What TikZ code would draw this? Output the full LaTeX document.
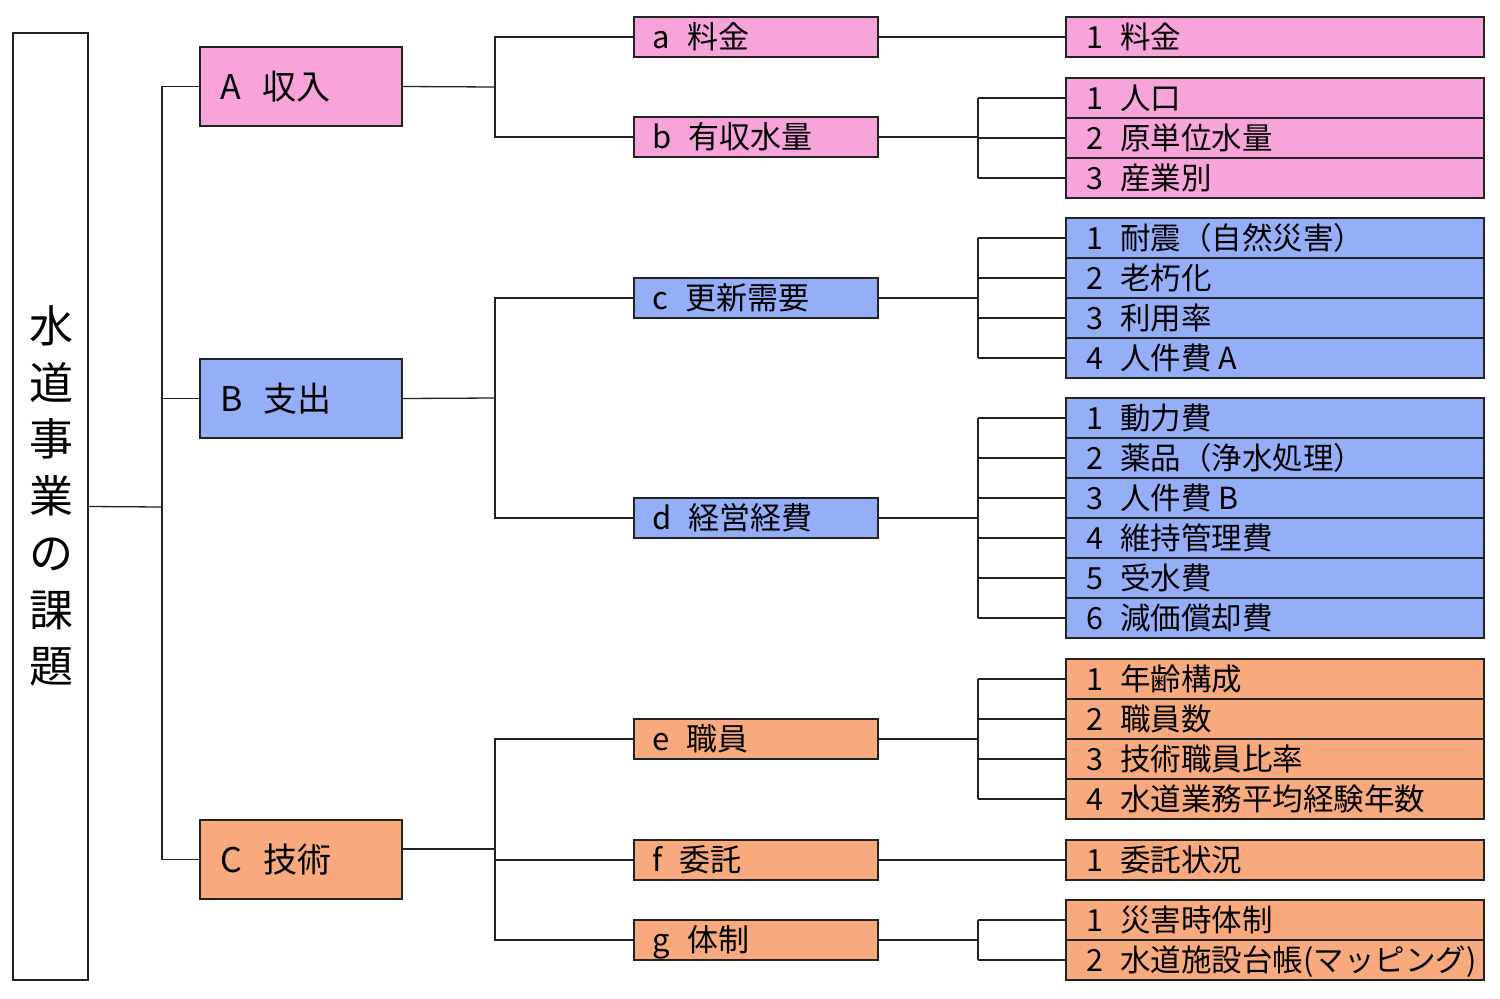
\documentclass[tikz,border=0pt]{standalone}
\usepackage{fontspec}
\setmainfont{Noto Sans CJK JP}
\definecolor{pk}{RGB}{248,164,218}
\definecolor{bl}{RGB}{148,175,248}
\definecolor{og}{RGB}{248,170,126}
\definecolor{ln}{RGB}{35,35,35}
\newcommand\hsp{\hspace{0.55em}}
\newcommand\bhsp{\hspace{0.62em}}
\begin{document}
\begin{tikzpicture}[x=1pt,y=-1pt,
  frame/.style={draw=ln,line width=1.4pt,inner sep=0pt},
  bigbox/.style={frame,minimum width=202pt,minimum height=79pt},
  midbox/.style={frame,minimum width=244pt,minimum height=40pt},
  rbox/.style={frame,minimum width=418pt,minimum height=40pt},
  bigtext/.style={anchor=west,inner sep=0pt,font=\fontsize{34}{40}\selectfont,text height=29.9pt,text depth=4.1pt},
  midtext/.style={anchor=west,inner sep=0pt,font=\fontsize{31}{36}\selectfont,text height=27.3pt,text depth=3.7pt},
  rtext/.style={anchor=west,inner sep=0pt,font=\fontsize{30.5}{36}\selectfont,text height=26.8pt,text depth=3.7pt},
  conn/.style={draw=ln,line width=1.3pt}]
\useasboundingbox (0,0) rectangle (1500,999);
% root
\node[frame,minimum width=75pt,minimum height=947pt] (root) at (50.5,506.5) {};
\node[inner sep=0pt,align=center,font=\fontsize{44}{56.7}\selectfont] (title) at (51,496) {水\\道\\事\\業\\の\\課\\題};
% level 1
\node[bigbox,fill=pk] (A) at (301,86.5) {};
\node[bigbox,fill=bl] (B) at (301,398.5) {};
\node[bigbox,fill=og] (C) at (301,859.5) {};
\node[bigtext] (tA) at ([xshift=21pt]A.west) {A\bhsp 収入};
\node[bigtext] (tB) at ([xshift=21pt]B.west) {B\bhsp 支出};
\node[bigtext] (tC) at ([xshift=21pt]C.west) {C\bhsp 技術};
% level 2
\foreach \n/\y/\c/\t in {ma/37/pk/{a\hsp 料金}, mb/137/pk/{b\hsp 有収水量},
  mc/298/bl/{c\hsp 更新需要}, md/518/bl/{d\hsp 経営経費},
  me/739/og/{e\hsp 職員}, mf/860/og/{f\hsp 委託}, mg/940/og/{g\hsp 体制}}{
  \node[midbox,fill=\c] (\n) at (756,\y) {};
  \node[midtext] (t\n) at ([xshift=19pt]\n.west) {\t};
}
% level 3
\foreach \n/\y/\c/\t in {
  ra1/37/pk/{1\hsp 料金},
  rb1/98/pk/{1\hsp 人口}, rb2/138/pk/{2\hsp 原単位水量}, rb3/178/pk/{3\hsp 産業別},
  rc1/238/bl/{1\hsp 耐震（自然災害）}, rc2/278/bl/{2\hsp 老朽化}, rc3/318/bl/{3\hsp 利用率}, rc4/358/bl/{4\hsp 人件費 A},
  rd1/418/bl/{1\hsp 動力費}, rd2/458/bl/{2\hsp 薬品（浄水処理）}, rd3/498/bl/{3\hsp 人件費 B},
  rd4/538/bl/{4\hsp 維持管理費}, rd5/578/bl/{5\hsp 受水費}, rd6/618/bl/{6\hsp 減価償却費},
  re1/679/og/{1\hsp 年齢構成}, re2/719/og/{2\hsp 職員数}, re3/759/og/{3\hsp 技術職員比率}, re4/799/og/{4\hsp 水道業務平均経験年数},
  rf1/860/og/{1\hsp 委託状況},
  rg1/920/og/{1\hsp 災害時体制}, rg2/960/og/{2\hsp 水道施設台帳(マッピング)}}{
  \node[rbox,fill=\c] (\n) at (1275,\y) {};
  \node[rtext] (t\n) at ([xshift=21pt]\n.west) {\t};
}
% root connectors
\coordinate (jR) at (162,507);
\draw[conn] (root.east) -- (jR);
\draw[conn] (A.west) -| (jR) |- (C.west);
\draw[conn] (B.west) -- (jR |- B.west);
% level1 -> level2
\coordinate (jA) at (495,87);
\coordinate (jB) at (495,398);
\coordinate (jC) at (495,849);
\draw[conn] (A.east) -- (jA);
\draw[conn] (ma.west) -| (jA) |- (mb.west);
\draw[conn] (B.east) -- (jB);
\draw[conn] (mc.west) -| (jB) |- (md.west);
\draw[conn] (C.east |- jC) -- (jC);
\draw[conn] (me.west) -| (jC) |- (mg.west);
\draw[conn] (jC |- mf.west) -- (mf.west);
% level2 -> level3
\draw[conn] (ma.east) -- (ra1.west);
\draw[conn] (mf.east) -- (rf1.west);
\coordinate (jb) at (978,137);
\coordinate (jc) at (978,298);
\coordinate (jd) at (978,518);
\coordinate (je) at (978,739);
\coordinate (jg) at (978,940);
\draw[conn] (mb.east) -- (jb);
\draw[conn] (jb |- rb1.west) -- (jb |- rb3.west);
\foreach \r in {rb1,rb2,rb3} \draw[conn] (jb |- \r.west) -- (\r.west);
\draw[conn] (mc.east) -- (jc);
\draw[conn] (jc |- rc1.west) -- (jc |- rc4.west);
\foreach \r in {rc1,rc2,rc3,rc4} \draw[conn] (jc |- \r.west) -- (\r.west);
\draw[conn] (md.east) -- (jd);
\draw[conn] (jd |- rd1.west) -- (jd |- rd6.west);
\foreach \r in {rd1,rd2,rd3,rd4,rd5,rd6} \draw[conn] (jd |- \r.west) -- (\r.west);
\draw[conn] (me.east) -- (je);
\draw[conn] (je |- re1.west) -- (je |- re4.west);
\foreach \r in {re1,re2,re3,re4} \draw[conn] (je |- \r.west) -- (\r.west);
\draw[conn] (mg.east) -- (jg);
\draw[conn] (jg |- rg1.west) -- (jg |- rg2.west);
\foreach \r in {rg1,rg2} \draw[conn] (jg |- \r.west) -- (\r.west);
\end{tikzpicture}
\end{document}
